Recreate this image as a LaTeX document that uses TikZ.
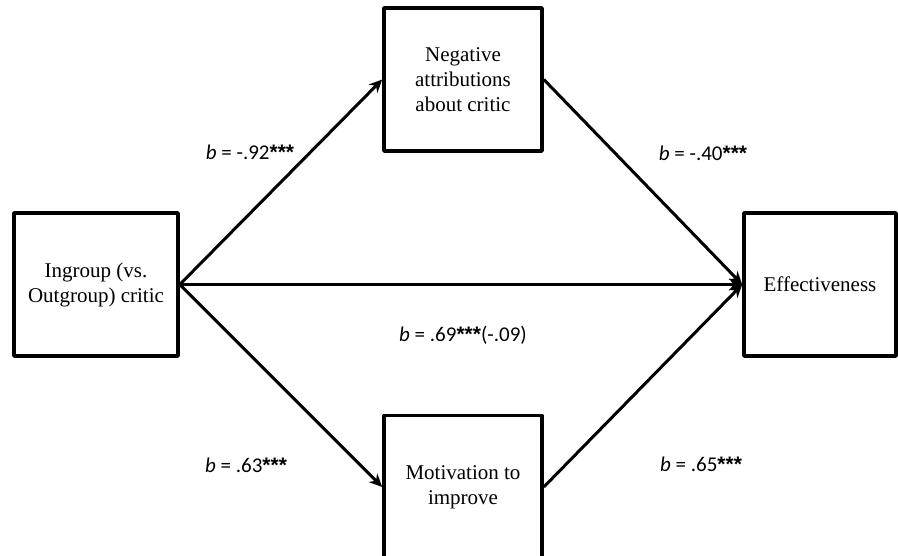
\documentclass[tikz,border=0pt]{standalone}
\usepackage{fontspec}
\setmainfont{Liberation Serif}
\newfontfamily\coeffont{Carlito}
\newfontfamily\starfont{Liberation Sans}
\usetikzlibrary{arrows.meta}
\tikzset{
  varbox/.style={draw, line width=3.6pt, align=center, minimum height=143pt, inner sep=2pt},
  path/.style={line width=3pt, -{Stealth[length=13pt,width=12pt]}},
  coef/.style={font=\coeffont\fontsize{21}{24}\selectfont}
}
\newcommand{\bval}[1]{\textit{b} = #1}
\newcommand{\sig}{{\starfont\bfseries ***}}
\begin{document}
\begin{tikzpicture}[x=1pt,y=-1pt,font=\fontsize{21}{25}\selectfont, line join=round]
				\useasboundingbox (0,0) rectangle (898,556);
				% Variablen
				\node[varbox, minimum width=164pt] (crit) at (96,284.5) {Ingroup (vs.\\Outgroup) critic};
				\node[varbox, minimum width=158pt] (attr) at (463,79.5) {Negative\\attributions\\about critic};
				\node[varbox, minimum width=158pt] (motiv) at (463,487) {Motivation to\\improve};
				\node[varbox, minimum width=152pt] (eff) at (820,284.5) {Effectiveness};
				% Pfade
				\draw[path] (crit.east) -- (attr.west);
				\draw[path] (crit.east) -- (motiv.west);
				\draw[path] (crit.east) -- (eff.west);
				\draw[path] (attr.east) -- (eff.west);
				\draw[path] (motiv.east) -- (eff.west);
				% Koeffizienten
				\node[coef] (b1) at (250,152) {\bval{-.92\sig}};
				\node[coef] (b2) at (703,153) {\bval{-.40\sig}};
				\node[coef] (b3) at (463,335) {\bval{.69\sig(-.09)}};
				\node[coef] (b4) at (246,465) {\bval{.63\sig}};
				\node[coef] (b5) at (701,464) {\bval{.65\sig}};
\end{tikzpicture}
\end{document}
